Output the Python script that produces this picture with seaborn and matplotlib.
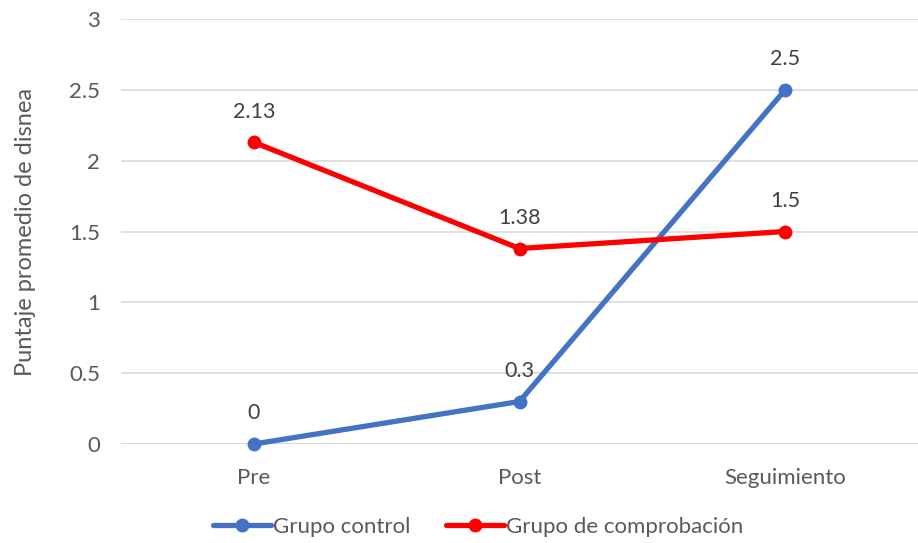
import matplotlib
matplotlib.use("Agg")
import matplotlib.pyplot as plt
import seaborn as sns
import pandas as pd

# Data
etapas = ["Pre", "Post", "Seguimiento"]
grupo_control = [0, 0.3, 2.5]
grupo_comprobacion = [2.13, 1.38, 1.5]
series_names = ["Grupo control", "Grupo de comprobación"]
colores = ["#4472C4", "#FF0000"]
y_ticks = [0, 0.5, 1, 1.5, 2, 2.5, 3]

sns.set_theme(style="white")
plt.rcParams["font.family"] = ["Lato", "DejaVu Sans"]
texto = "#595959"

df = pd.DataFrame({
    "etapa": etapas * 2,
    "x": list(range(len(etapas))) * 2,
    "valor": grupo_control + grupo_comprobacion,
    "grupo": [series_names[0]] * 3 + [series_names[1]] * 3,
})

fig = plt.figure(figsize=(9.18, 5.43), dpi=100)
ax = fig.add_axes([121 / 918, 1 - 444 / 543, (918 - 121) / 918, (444 - 19) / 543])

sns.lineplot(data=df, x="x", y="valor", hue="grupo", hue_order=series_names,
             palette=colores, marker="o", markersize=10, linewidth=3.8,
             markeredgewidth=0, ax=ax, legend=True, zorder=3, clip_on=False)

# Value labels above each point
for _, row in df.iterrows():
    ax.annotate(f"{row['valor']:g}", (row["x"], row["valor"]),
                xytext=(0, 22), textcoords="offset points",
                ha="center", va="center", fontsize=15.5, color="#404040")

ax.set_xlim(-0.5, 2.5)
ax.set_ylim(0, 3)
ax.set_yticks(y_ticks)
ax.set_yticklabels([f"{t:g}" for t in y_ticks])
ax.set_xticks(range(len(etapas)))
ax.set_xticklabels(etapas)
ax.tick_params(axis="both", length=0, labelsize=16, labelcolor=texto)
ax.tick_params(axis="y", pad=15)
ax.tick_params(axis="x", pad=17)
ax.yaxis.grid(True, color="#D9D9D9", linewidth=1.2)
ax.set_axisbelow(True)
for s in ax.spines.values():
    s.set_visible(False)
ax.axhline(0, color="#D9D9D9", linewidth=1.2, zorder=1)

ax.set_xlabel("")
ax.set_ylabel("Puntaje promedio de disnea", fontsize=17, color=texto, labelpad=24)

handles, labels = ax.get_legend_handles_labels()
ax.legend(handles, labels, loc="center", bbox_to_anchor=(0.448, -0.195),
          ncol=2, frameon=False, fontsize=16, labelcolor=texto,
          handlelength=2.6, handletextpad=0.1, columnspacing=1.6)

fig.savefig("out.png", dpi=100)
